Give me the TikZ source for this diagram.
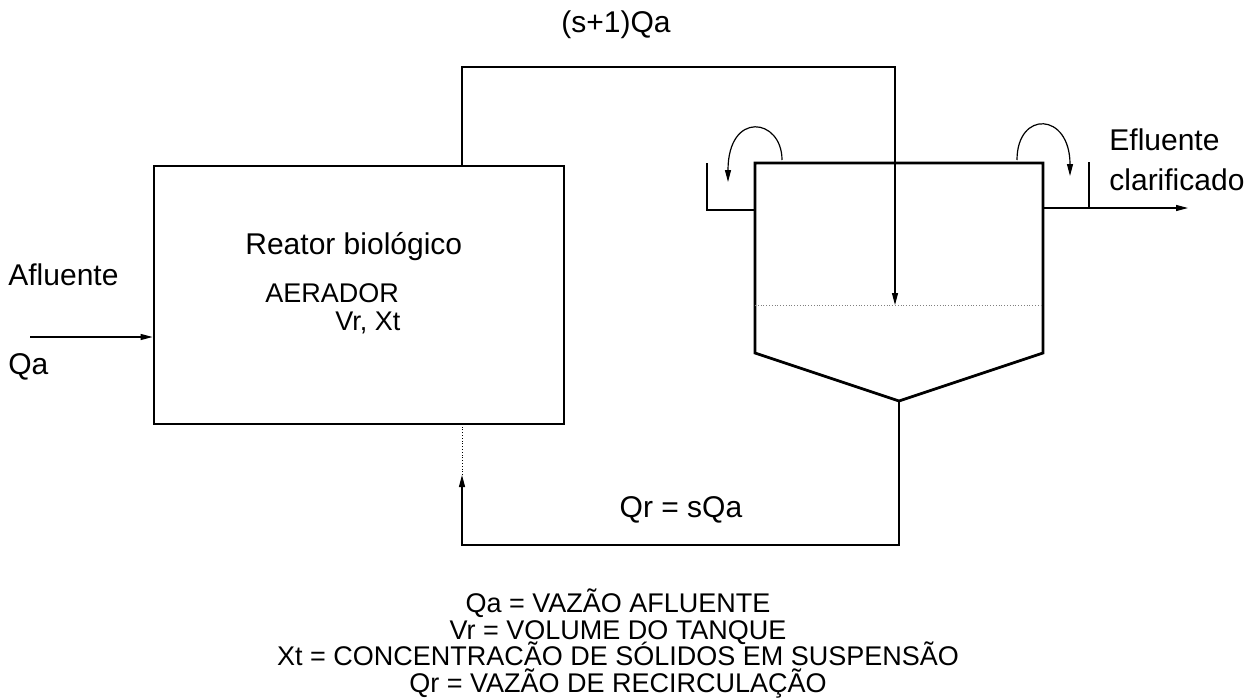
\documentclass[tikz,border=0pt]{standalone}
\usepackage{fontspec}
\setmainfont{Liberation Sans}
\usetikzlibrary{arrows.meta,positioning}

\begin{document}
\begin{tikzpicture}[x=0.5pt, y=-0.5pt,
        tanque/.style={draw, line width=1.4pt, line join=miter},
        flow/.style={-{Triangle[length=6pt,width=3pt]}, line width=0.6pt},
        linha/.style={line width=0.6pt},
        lbl/.style={font=\fontsize{15}{18}\selectfont, inner sep=0pt},
        lblsm/.style={font=\fontsize{13.5}{16}\selectfont, inner sep=0pt},
        leg/.style={font=\fontsize{13.5}{16}\selectfont, inner sep=0pt, anchor=base}
      ]
        \useasboundingbox (0,0) rectangle (1259,697);

        % reator
        \node[tanque, minimum width=205pt, minimum height=129pt, inner sep=0pt] (reator) at (359,295) {};
        \node[lbl, anchor=west]   (rtxt) at (245,247) {Reator biológico};
        \node[lblsm, anchor=west] (aer)  at (265,293) {AERADOR};
        \node[lblsm, anchor=west] (vrxt) at (335,323) {Vr, Xt};

        % decantador
        \coordinate (d1)     at (755,163);
        \coordinate (d2)     at (755,353);
        \coordinate (dfundo) at (899,401);
        \coordinate (d4)     at (1043,353);
        \coordinate (d5)     at (1043,163);
        \draw[tanque] (d1) -- (d2) -- (dfundo) -- (d4) -- (d5) -- cycle;
        \draw[densely dotted, line width=0.4pt, gray] (755,305) -- (1043,305);

        % vertedores
        \draw[linha] (707,163) -- (707,210) -- (755,210);
        \draw[linha] (1089,162) -- (1089,207);

        % fluxos
        \coordinate (topo1)   at (462,67);
        \coordinate (topo2)   at (895,67);
        \coordinate (entrada) at (895,305);
        \draw[flow] (reator.north -| topo1) -- (topo1) -- (topo2) -- (entrada);

        \coordinate (rec1) at (899,545);
        \coordinate (rec2) at (462,545);
        \coordinate (rec3) at (462,475);
        \draw[flow] (dfundo) -- (rec1) -- (rec2) -- (rec3);
        \draw[densely dotted, line width=0.4pt] (rec3) -- (reator.south -| rec3);

        \coordinate (afl) at (30,337);
        \draw[flow] (afl) -- (reator.west |- afl);

        \coordinate (efl) at (1188,208);
        \draw[flow] (d5 |- efl) -- (efl);

        \coordinate (ce1) at (782,160);
        \coordinate (ce2) at (728,182);
        \draw[flow] (ce1) .. controls (782,118) and (728,110) .. (ce2);
        \coordinate (cd1) at (1017,160);
        \coordinate (cd2) at (1070,176);
        \draw[flow] (cd1) .. controls (1017,110) and (1070,112) .. (cd2);

        % textos
        \node[lbl] (qtopo) at (616,25) {(s+1)Qa};
        \node[lbl, anchor=west] (afltxt)  at (8,275)    {Afluente};
        \node[lbl, anchor=west] (qatxt)   at (8,367)    {Qa};
        \node[lbl, anchor=west] (efltxt)  at (1109,140) {Efluente};
        \node[lbl, anchor=west] (clartxt) at (1109,180) {clarificado};
        \node[lbl] (qrtxt) at (681,510) {Qr = sQa};

        % legenda
        \node[leg] (leg1) at (618,612) {Qa = VAZÃO AFLUENTE};
        \node[leg] (leg2) at (618,639) {Vr = VOLUME DO TANQUE};
        \node[leg] (leg3) at (618,665) {Xt = CONCENTRACÃO DE SÓLIDOS EM SUSPENSÃO};
        \node[leg] (leg4) at (618,692) {Qr = VAZÃO DE RECIRCULAÇÃO};
      \end{tikzpicture}
\end{document}
